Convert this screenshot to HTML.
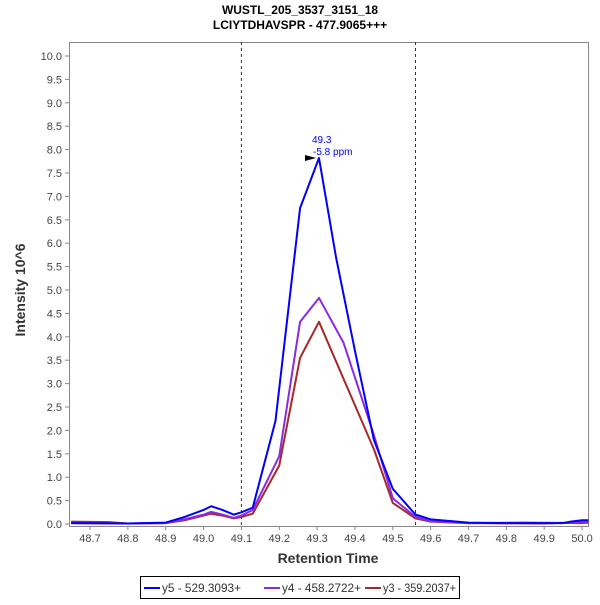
<!DOCTYPE html>
<html><head><meta charset="utf-8"><style>
body{margin:0;background:#fff;font-family:"Liberation Sans",sans-serif;}
svg text{font-family:"Liberation Sans",sans-serif;}
</style></head><body>
<svg id="chart" width="600" height="600">
<text x="300" y="14" text-anchor="middle" font-size="12" font-weight="bold">WUSTL_205_3537_3151_18</text>
<text x="300" y="29" text-anchor="middle" font-size="12" font-weight="bold">LCIYTDHAVSPR - 477.9065+++</text>
<g id="axes"></g>
<g id="series"></g>
<text x="25" y="290" transform="rotate(-90 25 290)" text-anchor="middle" font-size="14" font-weight="bold" fill="#333">Intensity 10^6</text>
<text x="328" y="563" text-anchor="middle" font-size="14" font-weight="bold" fill="#333">Retention Time</text>
<text x="312" y="143" font-size="10" fill="#00f">49.3</text>
<text x="313" y="155" font-size="10" fill="#00f">-5.8 ppm</text>
<polygon points="305,155 316,158 305,161" fill="#000"/>
<g>
<rect x="140.5" y="576.5" width="319" height="22" fill="#fff" stroke="#000"/>
<line x1="144" y1="588" x2="160" y2="588" stroke="#00f" stroke-width="2"/>
<text x="162" y="592" font-size="12" textLength="79" lengthAdjust="spacingAndGlyphs" fill="#333">y5 - 529.3093+</text>
<line x1="264" y1="588" x2="280" y2="588" stroke="#8a2be2" stroke-width="2"/>
<text x="282" y="592" font-size="12" textLength="79" lengthAdjust="spacingAndGlyphs" fill="#333">y4 - 458.2722+</text>
<line x1="365" y1="588" x2="381" y2="588" stroke="#a52a2a" stroke-width="2"/>
<text x="383" y="592" font-size="12" textLength="73" lengthAdjust="spacingAndGlyphs" fill="#333">y3 - 359.2037+</text>
</g>
</svg>
<script>
const xTicks=[48.7,48.8,48.9,49.0,49.1,49.2,49.3,49.4,49.5,49.6,49.7,49.8,49.9,50.0];
const yTicks=[0,0.5,1,1.5,2,2.5,3,3.5,4,4.5,5,5.5,6,6.5,7,7.5,8,8.5,9,9.5,10];
const boundaries=[49.1,49.56];
const y5T=[48.65,48.8,48.9,48.95,49.0,49.02,49.05,49.08,49.1,49.13,49.19,49.255,49.305,49.35,49.4,49.45,49.5,49.56,49.6,49.7,49.8,49.95,49.97,50.0,50.017];
const y5V=[0.02,0.01,0.03,0.15,0.3,0.38,0.3,0.2,0.25,0.35,2.2,6.75,7.82,5.7,3.7,1.8,0.75,0.2,0.1,0.03,0.02,0.02,0.05,0.08,0.08];
const y4T=[48.65,48.8,48.9,48.95,49.0,49.02,49.05,49.08,49.1,49.13,49.2,49.255,49.305,49.37,49.45,49.5,49.56,49.6,49.7,49.9,50.0,50.017];
const y4V=[0.02,0.01,0.02,0.1,0.2,0.26,0.2,0.13,0.18,0.3,1.45,4.32,4.83,3.87,1.9,0.55,0.15,0.06,0.02,0.01,0.04,0.05];
const y3T=[48.65,48.75,48.8,48.9,48.95,49.0,49.02,49.05,49.08,49.1,49.13,49.2,49.255,49.305,49.37,49.45,49.5,49.56,49.6,49.7,49.85,50.0,50.017];
const y3V=[0.05,0.04,0.01,0.02,0.08,0.18,0.22,0.18,0.12,0.15,0.22,1.25,3.55,4.32,3.1,1.6,0.45,0.12,0.05,0.02,0.03,0.02,0.03];
const L=69,R=588,T=42,B=526;
const X=v=>90+(v-48.7)*378.5;
const Y=v=>524-v*46.8;
const NS="http://www.w3.org/2000/svg";
const ax=document.getElementById('axes');
function mk(tag,attrs,parent){const e=document.createElementNS(NS,tag);for(const k in attrs)e.setAttribute(k,attrs[k]);parent.appendChild(e);return e;}
const frame=mk('rect',{x:L+0.5,y:T+0.5,width:R-L,height:B-T,fill:'none',stroke:'#888'},ax);


xTicks.forEach(t=>{const x=X(t);
mk('line',{x1:x,y1:B,x2:x,y2:B+4,stroke:'#888'},ax);
const tx=mk('text',{x:x,y:B+16,'text-anchor':'middle','font-size':'11',fill:'#444'},ax);tx.textContent=t.toFixed(1);

});
yTicks.forEach(t=>{const y=Y(t);
mk('line',{x1:L-4,y1:y,x2:L,y2:y,stroke:'#888'},ax);
const tx=mk('text',{x:L-7,y:y+4,'text-anchor':'end','font-size':'11',fill:'#444'},ax);tx.textContent=t.toFixed(1);

});
boundaries.forEach(b=>{const l=mk('line',{x1:X(b),y1:T,x2:X(b),y2:B,stroke:'#333','stroke-dasharray':'3,3'},ax);

});
const sg=document.getElementById('series');
[[y5T,y5V,'#0000ff','series-y5'],[y4T,y4V,'#8a2be2','series-y4'],[y3T,y3V,'#a52a2a','series-y3']].reverse().forEach(([ts,vs,c,n])=>{
const p=mk('polyline',{points:ts.map((t,i)=>X(t)+','+Y(vs[i])).join(' '),fill:'none',stroke:c,'stroke-width':2,'stroke-linejoin':'round'},sg);

});
</script>
</body></html>
